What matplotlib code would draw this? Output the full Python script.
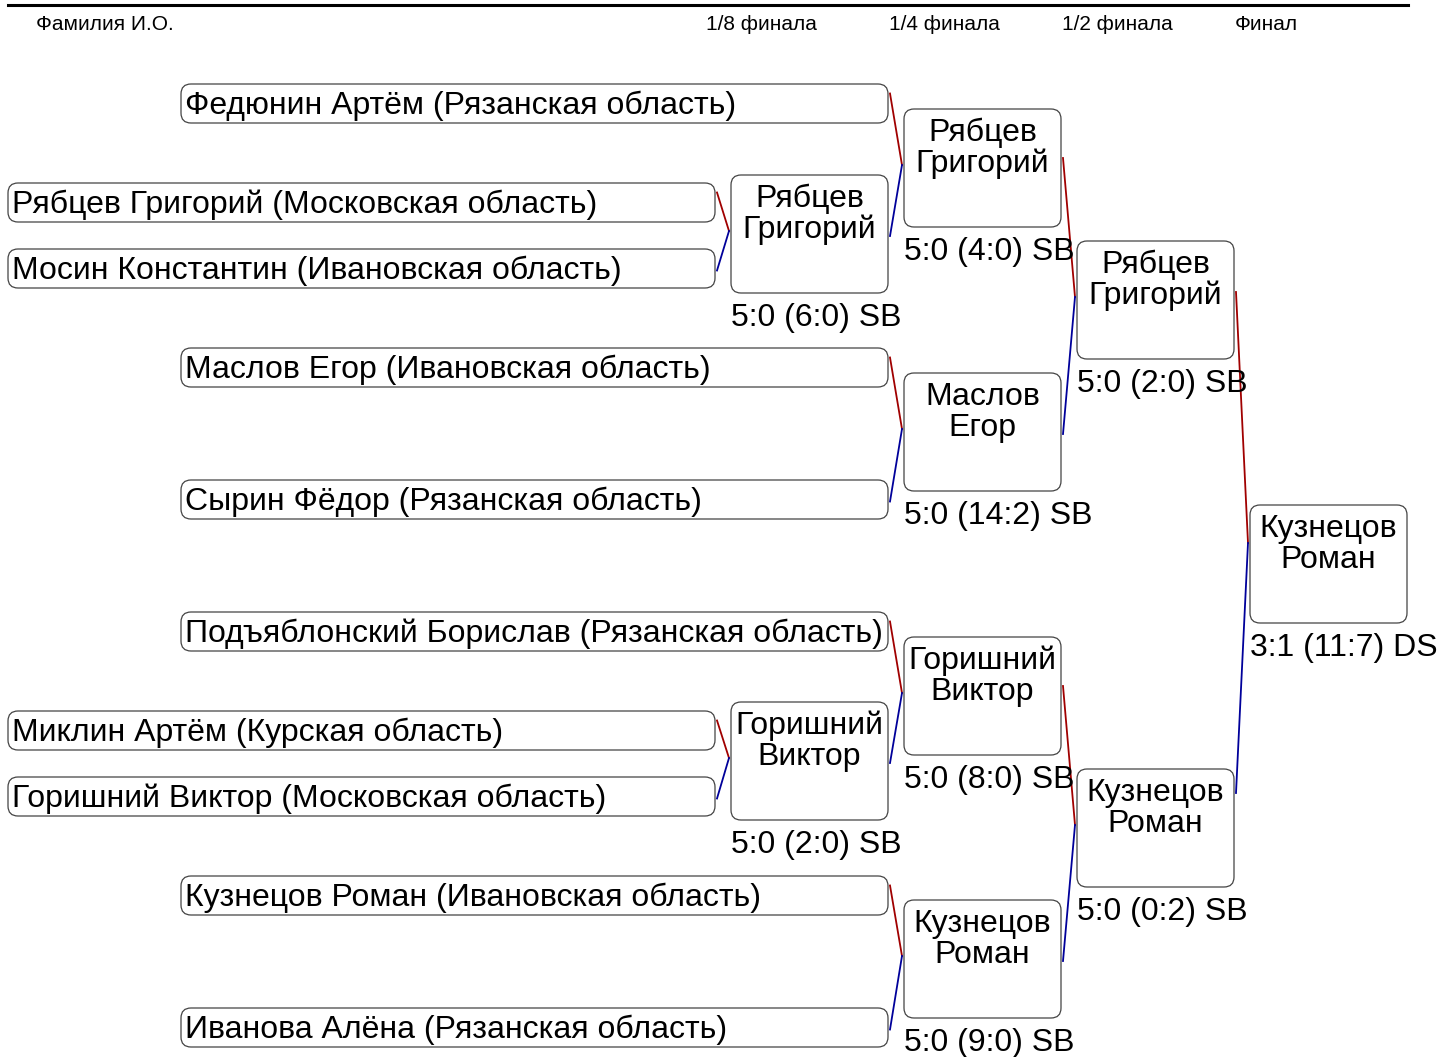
import matplotlib
matplotlib.use('Agg')
import matplotlib.pyplot as plt
from matplotlib.patches import FancyBboxPatch

plt.rcParams['font.family'] = ['Liberation Sans', 'DejaVu Sans']

# data
header_left = "Фамилия И.О."
round_titles = ["1/8 финала", "1/4 финала", "1/2 финала", "Финал"]

r16_names = ["Рябцев Григорий (Московская область)",
             "Мосин Константин (Ивановская область)",
             "Миклин Артём (Курская область)",
             "Горишний Виктор (Московская область)"]
seeded_names = ["Федюнин Артём (Рязанская область)",
                "Маслов Егор (Ивановская область)",
                "Сырин Фёдор (Рязанская область)",
                "Подъяблонский Борислав (Рязанская область)",
                "Кузнецов Роман (Ивановская область)",
                "Иванова Алёна (Рязанская область)"]
r8_winners = ["Рябцев\nГригорий", "Горишний\nВиктор"]
r8_scores = ["5:0 (6:0) SB", "5:0 (2:0) SB"]
r4_winners = ["Рябцев\nГригорий", "Маслов\nЕгор", "Горишний\nВиктор", "Кузнецов\nРоман"]
r4_scores = ["5:0 (4:0) SB", "5:0 (14:2) SB", "5:0 (8:0) SB", "5:0 (9:0) SB"]
r2_winners = ["Рябцев\nГригорий", "Кузнецов\nРоман"]
r2_scores = ["5:0 (2:0) SB", "5:0 (0:2) SB"]
final_winner = "Кузнецов\nРоман"
final_score = "3:1 (11:7) DS"

W, H = 1442, 1057
fig = plt.figure(figsize=(W / 100, H / 100), dpi=100)
ax = fig.add_axes([0, 0, 1, 1])
ax.set_xlim(0, W)
ax.set_ylim(H, 0)
ax.axis('off')

RED = '#a00000'
BLUE = '#00009a'
NAME_FS = 23
ENTRY_H = 39
WIN_W, WIN_H = 157, 118


def box(x, y, w, h):
    p = FancyBboxPatch((x, y), w, h, boxstyle="round,pad=0,rounding_size=10",
                       fc='white', ec='#444444', lw=0.9)
    ax.add_patch(p)
    return (x, y, w, h)


def entry(x, y, w, name):
    b = box(x, y, w, ENTRY_H)
    ax.text(x + 4, y + ENTRY_H / 2 + 2, name, fontsize=NAME_FS, va='center', ha='left')
    return b


def winner(x, y, name, score):
    b = box(x, y, WIN_W, WIN_H)
    for i, line in enumerate(name.split('\n')):
        ax.text(x + WIN_W / 2, y + 24 + i * 31, line, fontsize=NAME_FS,
                va='center', ha='center')
    ax.text(x, y + WIN_H + 25, score, fontsize=NAME_FS, va='center', ha='left')
    return b


def link(top, bottom, parent, meet_off=-3, top_off=-10, bot_off=2):
    tx, ty, tw, th = top
    bx, by, bw, bh = bottom
    px, py, pw, ph = parent
    mx, my = px - 2, py + ph / 2 + meet_off
    ax.plot([tx + tw + 2, mx], [ty + th / 2 + top_off, my], color=RED, lw=1.3)
    ax.plot([mx, bx + bw + 2], [my, by + bh / 2 + bot_off], color=BLUE, lw=1.3)


# layout (pixel positions)
header_x = [706, 889, 1062, 1235]
r16_tops = [183, 249, 711, 777]
seeded_tops = [84, 348, 480, 612, 876, 1008]
r8_tops = [175, 702]
r4_tops = [109, 373, 637, 900]
r2_tops = [241, 769]
final_top = 505

colA = 8
colB = 181
col8 = 731
col4 = col8 + 173
col2 = col4 + 173
colF = col2 + 173

# header
ax.plot([8, 1408], [5, 5], color='black', lw=2.2)
ax.text(36, 24, header_left, fontsize=15, va='center', ha='left')
for x, t in zip(header_x, round_titles):
    ax.text(x, 24, t, fontsize=15, va='center', ha='left')

r16 = [entry(colA, y, 707, n) for y, n in zip(r16_tops, r16_names)]
seeded = [entry(colB, y, 707, n) for y, n in zip(seeded_tops, seeded_names)]
r8 = [winner(col8, y, n, s) for y, n, s in zip(r8_tops, r8_winners, r8_scores)]
r4 = [winner(col4, y, n, s) for y, n, s in zip(r4_tops, r4_winners, r4_scores)]
r2 = [winner(col2, y, n, s) for y, n, s in zip(r2_tops, r2_winners, r2_scores)]
fin = winner(colF, final_top, final_winner, final_score)

link(r16[0], r16[1], r8[0])
link(r16[2], r16[3], r8[1])
link(seeded[0], r8[0], r4[0])
link(seeded[1], seeded[2], r4[1])
link(seeded[3], r8[1], r4[2])
link(seeded[4], seeded[5], r4[3])
link(r4[0], r4[1], r2[0])
link(r4[2], r4[3], r2[1])
link(r2[0], r2[1], fin, meet_off=-21, top_off=-8, bot_off=-35)

fig.savefig('out.png', dpi=100)
